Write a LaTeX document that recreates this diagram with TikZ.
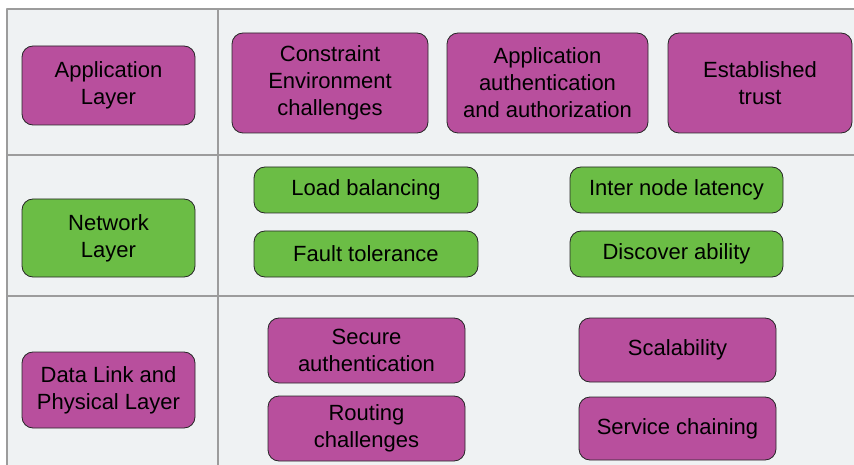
\documentclass[tikz,border=0pt]{standalone}
\usepackage{fontspec}
\setmainfont{Liberation Sans}
\usepackage{xcolor}
\usetikzlibrary{positioning,calc}

\definecolor{cellgray}{HTML}{EFF2F3}
\definecolor{gridgray}{HTML}{9C9C9C}
\definecolor{plum}{HTML}{B84F9D}
\definecolor{leaf}{HTML}{6BBD45}

\begin{document}
\begin{tikzpicture}[x=1pt,y=-1pt,line join=round,
  tile/.style={draw=black!85,line width=0.8pt,rounded corners=11pt,align=center,
    inner sep=0pt,font=\fontsize{22}{27}\selectfont},
  magenta tile/.style={tile,fill=plum},
  green tile/.style={tile,fill=leaf},
  gridline/.style={draw=gridgray,line width=1.5pt}]

  % #1 is name, #2 is style, #3/#4 is left/right, #5/#6 is top/bottom, #7 is text
  \newcommand{\deftile}[7]{
    \node[#2,minimum width=#4-#3,minimum height=#6-#5] (#1)
      at ({(#3+#4)/2},{(#5+#6)/2}) {#7};
  }

  \fill[white] (0,0) rectangle (854,465);
  \useasboundingbox (0,0) rectangle (854,465);
  \fill[cellgray] (7,9) rectangle (854,465);

  % table
  \draw[gridline] (7,465) -- (7,9) -- (854,9);
  \draw[gridline] (218,9) -- (218,465);
  \draw[gridline] (7,155) -- (854,155);
  \draw[gridline] (7,296) -- (854,296);

  % application layer
  \deftile{app}{magenta tile}{22}{195}{46}{125}{Application\\Layer}
  \deftile{constraint}{magenta tile}{232}{428}{33}{133}{Constraint\\Environment\\challenges}
  \deftile{appauth}{magenta tile}{447}{648}{33}{133}{Application\\authentication\\and authorization}
  \deftile{trust}{magenta tile}{668}{852}{33}{133}{Established\\trust}

  % network layer
  \deftile{net}{green tile}{22}{195}{199}{277}{Network\\Layer}
  \deftile{loadbal}{green tile}{254}{478}{167}{213}{Load balancing}
  \deftile{fault}{green tile}{254}{478}{231}{277}{Fault tolerance}
  \deftile{latency}{green tile}{570}{783}{167}{213}{Inter node latency}
  \deftile{discover}{green tile}{570}{783}{231}{277}{Discover ability}

  % data link and physical layer
  \deftile{phy}{magenta tile}{22}{195}{352}{428}{Data Link and\\Physical Layer}
  \deftile{secauth}{magenta tile}{268}{465}{318}{383}{Secure\\authentication}
  \deftile{routing}{magenta tile}{268}{465}{396}{461}{Routing\\challenges}
  \deftile{scal}{magenta tile}{579}{776}{318}{382}{Scalability}
  \deftile{chain}{magenta tile}{579}{776}{397}{460}{Service chaining}

\end{tikzpicture}
\end{document}
